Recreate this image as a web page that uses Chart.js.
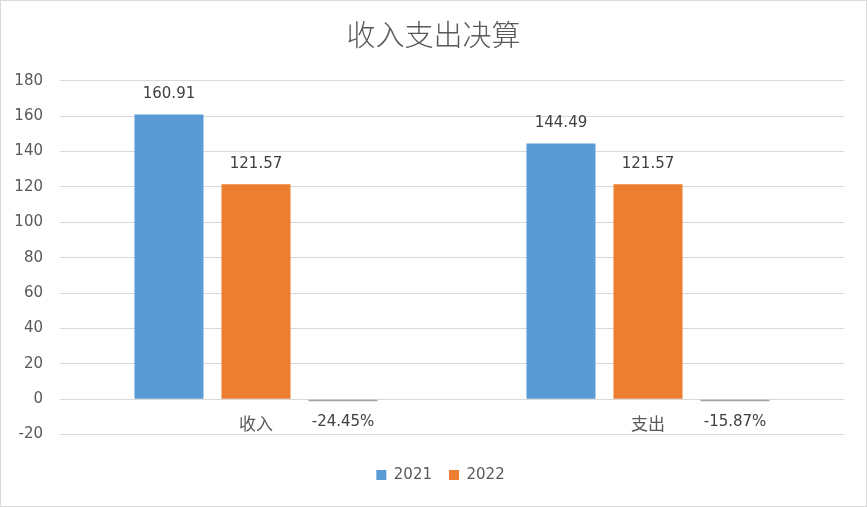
<!DOCTYPE html>
<html>
<head>
<meta charset="utf-8">
<script src="https://cdn.jsdelivr.net/npm/chart.js@4/dist/chart.umd.min.js"></script>
<style>
  html, body { margin: 0; padding: 0; background: #fff; }
  #wrap { position: absolute; left: 0; top: 0; width: 867px; height: 507px; box-sizing: border-box; border: 1px solid #d9d9d9; }
</style>
</head>
<body>
<div id="wrap"><canvas id="c" width="865" height="505"></canvas></div>
<script>
  // data
  const categories = ['收入', '支出'];
  const series2021 = [160.91, 144.49];
  const series2022 = [121.57, 121.57];
  const changeRate = [-0.2445, -0.1587]; // shown as a percent, bar is ~0 on this scale
  const yTicks = { min: -20, max: 180, step: 20 };

  const TEXT = '#595959';
  const LABEL = '#404040';
  const NUM_FONT = '"DejaVu Sans", "Noto Sans CJK SC", sans-serif';
  const CJK_FONT = '"Noto Sans CJK SC", "DejaVu Sans", sans-serif';

  // value labels above bars, percent labels under the rate bars
  const valueLabels = {
    id: 'valueLabels',
    afterDatasetsDraw(chart) {
      const ctx = chart.ctx;
      ctx.save();
      ctx.font = '15px ' + NUM_FONT;
      ctx.fillStyle = LABEL;
      ctx.textAlign = 'center';
      ctx.textBaseline = 'middle';
      chart.data.datasets.forEach((ds, di) => {
        const meta = chart.getDatasetMeta(di);
        meta.data.forEach((bar, i) => {
          const v = ds.data[i];
          if (ds.isRate) {
            ctx.fillText((v * 100).toFixed(2) + '%', bar.x, chart.scales.y.getPixelForValue(0) + 23);
          } else {
            ctx.fillText(v.toFixed(2), bar.x, bar.y - 20);
          }
        });
      });
      ctx.restore();
    }
  };

  // Excel centres title/legend a little right of the canvas centre
  const nudge = {
    id: 'nudge',
    afterLayout(chart) {
      if (chart.legend) { chart.legend.left += 18; chart.legend.right += 18; }
      if (chart.titleBlock) { chart.titleBlock.left += 11; chart.titleBlock.right += 11; }
    }
  };

  new Chart(document.getElementById('c'), {
    type: 'bar',
    data: {
      labels: categories,
      datasets: [
        { label: '2021', data: series2021, backgroundColor: '#5B9BD5', borderWidth: 0 },
        { label: '2022', data: series2022, backgroundColor: '#ED7D31', borderWidth: 0 },
        { label: '增减比例', data: changeRate, backgroundColor: '#A5A5A5', borderWidth: 0, minBarLength: 2, isRate: true }
      ]
    },
    options: {
      responsive: false,
      animation: false,
      categoryPercentage: 0.666,
      barPercentage: 0.793,
      layout: { padding: { left: 0, right: 22, top: 0, bottom: 13.5 } },
      plugins: {
        tooltip: { enabled: false },
        title: {
          display: true,
          text: '收入支出决算',
          color: TEXT,
          font: { family: CJK_FONT, size: 29, weight: '300' },
          padding: { top: 16.5, bottom: 28.5 }
        },
        legend: {
          position: 'bottom',
          title: { display: true, text: '', font: { size: 0 }, padding: { top: 16, bottom: 0 } },
          labels: {
            color: TEXT,
            font: { family: NUM_FONT, size: 15 },
            boxWidth: 10,
            boxHeight: 10,
            padding: 17,
            filter: (item) => item.datasetIndex < 2
          }
        }
      },
      scales: {
        x: {
          position: { y: 0 },
          grid: { display: false, drawTicks: false },
          border: { display: false },
          ticks: { color: TEXT, font: { family: CJK_FONT, size: 17 }, padding: 14 }
        },
        y: {
          min: yTicks.min,
          max: yTicks.max,
          afterFit: (s) => { s.width = 59; },
          grid: { color: '#d9d9d9', drawTicks: false },
          border: { display: false },
          ticks: { stepSize: yTicks.step, color: TEXT, font: { family: NUM_FONT, size: 15 }, padding: 17 }
        }
      }
    },
    plugins: [valueLabels, nudge]
  });
</script>
</body>
</html>
